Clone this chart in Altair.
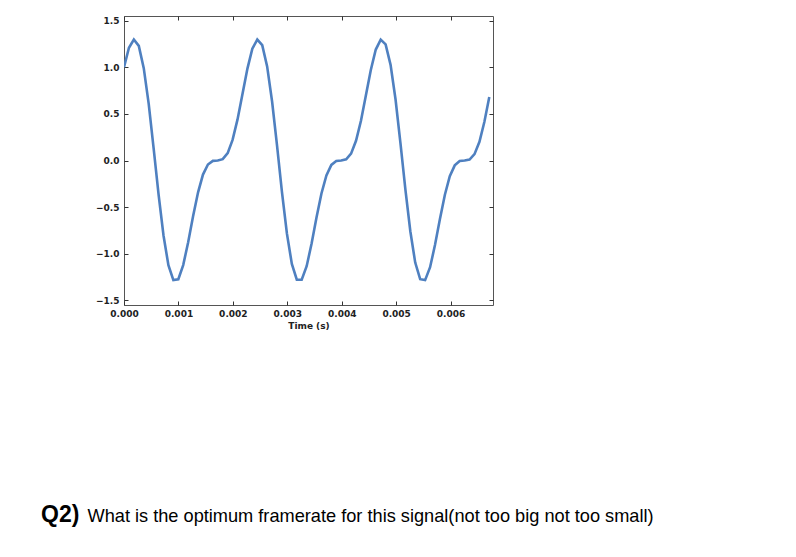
import altair as alt
import pandas as pd

# Sample times (s) and signal amplitude
time_s = [
    0.000000, 0.000091, 0.000181, 0.000272, 0.000363, 0.000454, 0.000544, 0.000635,
    0.000726, 0.000816, 0.000907, 0.000998, 0.001088, 0.001179, 0.001270, 0.001361,
    0.001451, 0.001542, 0.001633, 0.001723, 0.001814, 0.001905, 0.001995, 0.002086,
    0.002177, 0.002268, 0.002358, 0.002449, 0.002540, 0.002630, 0.002721, 0.002812,
    0.002902, 0.002993, 0.003084, 0.003175, 0.003265, 0.003356, 0.003447, 0.003537,
    0.003628, 0.003719, 0.003810, 0.003900, 0.003991, 0.004082, 0.004172, 0.004263,
    0.004354, 0.004444, 0.004535, 0.004626, 0.004717, 0.004807, 0.004898, 0.004989,
    0.005079, 0.005170, 0.005261, 0.005351, 0.005442, 0.005533, 0.005624, 0.005714,
    0.005805, 0.005896, 0.005986, 0.006077, 0.006168, 0.006259, 0.006349, 0.006440,
    0.006531, 0.006621, 0.006712,
]
amplitude = [
    1.000, 1.209, 1.298, 1.229, 0.991, 0.608, 0.132, -0.364,
    -0.804, -1.124, -1.283, -1.274, -1.122, -0.876, -0.596, -0.341,
    -0.151, -0.043, -0.004, 0.000, 0.014, 0.079, 0.221, 0.441,
    0.712, 0.986, 1.200, 1.297, 1.238, 1.009, 0.633, 0.160,
    -0.336, -0.782, -1.110, -1.278, -1.279, -1.134, -0.891, -0.612,
    -0.354, -0.160, -0.047, -0.005, 0.000, 0.012, 0.073, 0.211,
    0.427, 0.696, 0.971, 1.190, 1.296, 1.246, 1.026, 0.657,
    0.189, -0.309, -0.759, -1.095, -1.273, -1.283, -1.145, -0.907,
    -0.628, -0.367, -0.169, -0.052, -0.006, 0.000, 0.010, 0.068,
    0.201, 0.413, 0.680,
]
x_ticks = [0.000, 0.001, 0.002, 0.003, 0.004, 0.005, 0.006]
y_ticks = [-1.5, -1.0, -0.5, 0.0, 0.5, 1.0, 1.5]
x_title = "Time (s)"
question_label = ["Q2)"]
question_text = ["What is the optimum framerate for this signal(not too big not too small)"]

df = pd.DataFrame({"t": time_s, "v": amplitude})

xscale = alt.Scale(domain=[0, 0.00678], nice=False, zero=False)
yscale = alt.Scale(domain=[-1.55, 1.55], nice=False, zero=False)

axis_common = dict(
    offset=-4, tickSize=4, domain=False, grid=False, tickColor="#333333",
    labelFont="DejaVu Sans", labelFontSize=9, labelFontWeight="bold", labelColor="#222222",
    labelFlush=False, labelOverlap=False,
    titleFont="DejaVu Sans", titleFontSize=9, titleColor="#222222",
    titleFontWeight="bold",
)

line = alt.Chart(df).mark_line(color="#4f80c0", strokeWidth=2.6, clip=True).encode(
    x=alt.X("t:Q", scale=xscale, axis=alt.Axis(orient="bottom", values=x_ticks, format=".3f",
                                             title=x_title, labelPadding=4, titlePadding=3,
                                             **axis_common)),
    y=alt.Y("v:Q", scale=yscale, axis=alt.Axis(orient="left", values=y_ticks, format=".1f",
                                             title=None, labelPadding=5, **axis_common)),
)

ghost = alt.Chart(df).mark_line(opacity=0).encode(
    x=alt.X("t:Q", scale=xscale, axis=alt.Axis(orient="top", values=x_ticks, labels=False,
                                             title=None, **axis_common)),
    y=alt.Y("v:Q", scale=yscale, axis=alt.Axis(orient="right", values=y_ticks, labels=False,
                                             title=None, **axis_common)),
)

q_label = alt.Chart(pd.DataFrame({"s": question_label})).mark_text(
    font="Liberation Sans", fontSize=23, fontWeight="bold", align="left",
    baseline="alphabetic", color="#000000",
).encode(x=alt.value(-83), y=alt.value(505.7), text="s:N")

q_text = alt.Chart(pd.DataFrame({"s": question_text})).mark_text(
    font="Liberation Sans", fontSize=18.2, align="left", baseline="alphabetic", color="#000000",
).encode(x=alt.value(-36.5), y=alt.value(505.7), text="s:N")

chart = alt.layer(line, ghost, q_label, q_text).resolve_axis(
    x="independent", y="independent"
).properties(
    width=369, height=289,
    autosize=alt.AutoSizeParams(type="none"),
    padding={"left": 124, "top": 16, "right": 303, "bottom": 252},
    background="white",
).configure_view(stroke="#555555", strokeWidth=1)

chart.save("out.html", embed_options={"renderer": "svg", "actions": False})
